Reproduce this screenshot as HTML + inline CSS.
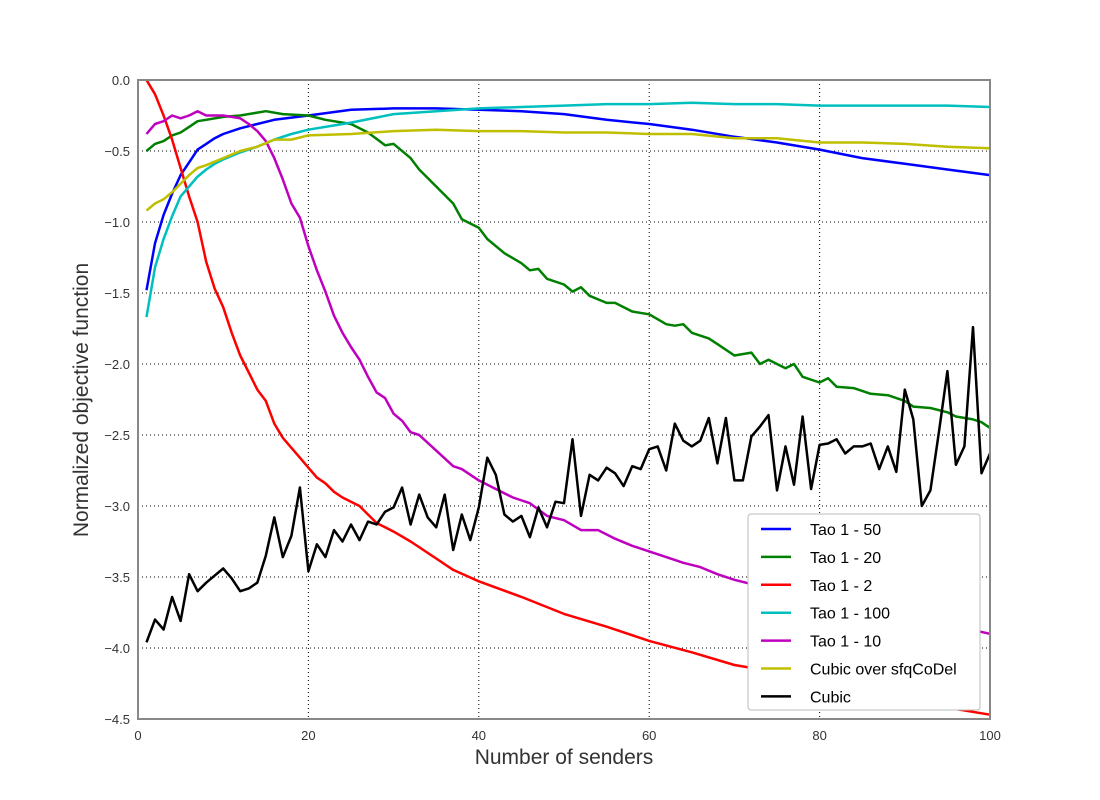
<!DOCTYPE html>
<html><head><meta charset="utf-8"><style>
body{margin:0;background:#fff;}
svg{display:block;font-family:"Liberation Sans",sans-serif;}
</style></head><body>
<svg id="chart" width="1100" height="800" viewBox="0 0 1100 800" xmlns="http://www.w3.org/2000/svg">
<g id="grid"></g>
<g id="series"></g>
<rect x="138" y="80" width="852" height="639" fill="none" stroke="#888" stroke-width="2"/>
<g id="ticks"></g>
<text x="564" y="764" text-anchor="middle" font-size="21" fill="#333">Number of senders</text>
<text transform="translate(88,400) rotate(-90)" text-anchor="middle" font-size="21" fill="#333">Normalized objective function</text>
<g id="legend"></g>
</svg>
<script>
const xTicks=[0,20,40,60,80,100];
const yTicks=[0,-0.5,-1,-1.5,-2,-2.5,-3,-3.5,-4,-4.5];
const seriesNames=["Tao 1 - 50","Tao 1 - 20","Tao 1 - 2","Tao 1 - 100","Tao 1 - 10","Cubic over sfqCoDel","Cubic"];
const seriesColors=["#0000ff","#008000","#ff0000","#00bfbf","#bf00bf","#bfbf00","#000000"];
const tao50X=[1,2,3,4,5,6,7,8,9,10,12,14,16,20,25,30,35,40,45,50,55,60,65,70,75,80,85,90,95,100];
const tao50Y=[-1.48,-1.15,-0.95,-0.8,-0.67,-0.58,-0.49,-0.45,-0.41,-0.38,-0.34,-0.31,-0.28,-0.25,-0.21,-0.2,-0.2,-0.21,-0.22,-0.24,-0.28,-0.31,-0.35,-0.4,-0.44,-0.49,-0.55,-0.59,-0.63,-0.67];
const tao20X=[1,2,3,4,5,6,7,8,10,12,15,17,20,22,25,27,29,30,32,33,35,37,38,40,41,43,45,46,47,48,50,51,52,53,55,56,58,60,62,63,64,65,67,68,70,72,73,74,76,77,78,80,81,82,84,86,88,90,91,93,95,96,98,99,100];
const tao20Y=[-0.5,-0.45,-0.43,-0.39,-0.37,-0.33,-0.29,-0.28,-0.26,-0.25,-0.22,-0.24,-0.25,-0.28,-0.31,-0.37,-0.46,-0.45,-0.55,-0.63,-0.75,-0.87,-0.98,-1.04,-1.12,-1.22,-1.29,-1.34,-1.33,-1.4,-1.44,-1.49,-1.46,-1.52,-1.57,-1.57,-1.63,-1.65,-1.72,-1.73,-1.72,-1.78,-1.82,-1.86,-1.94,-1.92,-2.0,-1.97,-2.03,-2.0,-2.09,-2.13,-2.1,-2.16,-2.17,-2.21,-2.22,-2.26,-2.3,-2.31,-2.34,-2.37,-2.39,-2.41,-2.45];
const tao2X=[1,2,3,4,5,6,7,8,9,10,11,12,13,14,15,16,17,18,19,20,21,22,23,24,25,26,27,28,29,30,32,35,37,40,45,50,55,60,65,70,72,80,90,95,100];
const tao2Y=[0,-0.1,-0.25,-0.42,-0.62,-0.82,-1.0,-1.28,-1.47,-1.6,-1.78,-1.94,-2.06,-2.18,-2.26,-2.42,-2.52,-2.59,-2.66,-2.73,-2.8,-2.84,-2.9,-2.94,-2.97,-3.0,-3.06,-3.12,-3.15,-3.18,-3.25,-3.37,-3.45,-3.53,-3.64,-3.76,-3.85,-3.95,-4.03,-4.12,-4.14,-4.25,-4.37,-4.42,-4.47];
const tao100X=[1,2,3,4,5,6,7,8,9,10,12,14,16,18,20,25,30,35,40,45,50,55,60,65,70,75,80,85,90,95,100];
const tao100Y=[-1.67,-1.32,-1.12,-0.96,-0.82,-0.75,-0.68,-0.63,-0.59,-0.56,-0.51,-0.47,-0.42,-0.38,-0.35,-0.3,-0.24,-0.22,-0.2,-0.19,-0.18,-0.17,-0.17,-0.16,-0.17,-0.17,-0.18,-0.18,-0.18,-0.18,-0.19];
const tao10X=[1,2,3,4,5,6,7,8,10,12,13,14,15,16,17,18,19,20,21,22,23,24,25,26,27,28,29,30,31,32,33,35,37,38,40,42,44,46,48,50,52,54,56,58,60,62,64,66,68,70,72,80,90,97,100];
const tao10Y=[-0.38,-0.31,-0.29,-0.25,-0.27,-0.25,-0.22,-0.25,-0.25,-0.27,-0.31,-0.36,-0.43,-0.55,-0.7,-0.87,-0.97,-1.17,-1.34,-1.49,-1.66,-1.78,-1.88,-1.97,-2.09,-2.2,-2.24,-2.35,-2.4,-2.48,-2.5,-2.61,-2.72,-2.74,-2.82,-2.88,-2.94,-2.98,-3.07,-3.1,-3.17,-3.17,-3.23,-3.28,-3.32,-3.36,-3.4,-3.43,-3.48,-3.52,-3.55,-3.67,-3.78,-3.86,-3.9];
const codelX=[1,2,3,4,5,6,7,8,10,12,14,16,18,20,25,30,35,40,45,50,55,60,65,70,75,80,85,90,95,100];
const codelY=[-0.92,-0.87,-0.84,-0.79,-0.73,-0.67,-0.62,-0.6,-0.55,-0.5,-0.47,-0.42,-0.42,-0.39,-0.38,-0.36,-0.35,-0.36,-0.36,-0.37,-0.37,-0.38,-0.38,-0.41,-0.41,-0.44,-0.44,-0.45,-0.47,-0.48];
const cubicY=[-3.96,-3.80,-3.87,-3.64,-3.81,-3.48,-3.60,-3.54,-3.49,-3.44,-3.51,-3.60,-3.58,-3.54,-3.35,-3.08,-3.36,-3.21,-2.87,-3.46,-3.27,-3.36,-3.17,-3.25,-3.13,-3.24,-3.11,-3.13,-3.04,-3.01,-2.87,-3.13,-2.92,-3.08,-3.15,-2.92,-3.31,-3.06,-3.24,-3.01,-2.66,-2.78,-3.06,-3.11,-3.07,-3.22,-3.01,-3.15,-2.97,-2.98,-2.53,-3.07,-2.78,-2.82,-2.73,-2.77,-2.86,-2.72,-2.74,-2.60,-2.58,-2.75,-2.42,-2.54,-2.58,-2.54,-2.38,-2.70,-2.38,-2.82,-2.82,-2.51,-2.44,-2.36,-2.89,-2.58,-2.85,-2.37,-2.88,-2.57,-2.56,-2.53,-2.63,-2.58,-2.58,-2.56,-2.74,-2.58,-2.76,-2.18,-2.39,-3.00,-2.89,-2.48,-2.05,-2.71,-2.58,-1.74,-2.77,-2.63];
const cubicX=cubicY.map((v,i)=>i+1);

const NS="http://www.w3.org/2000/svg";
const X0=138,X1=990,Y0=80,Y1=719;
const sx=v=>X0+(v-0)/(100-0)*(X1-X0);
const sy=v=>Y0+(0-v)/(0-(-4.5))*(Y1-Y0);
function mk(tag,parent,attrs){const e=document.createElementNS(NS,tag);for(const k in attrs)e.setAttribute(k,attrs[k]);parent.appendChild(e);return e;}
const grid=document.getElementById('grid'),ticks=document.getElementById('ticks');
xTicks.forEach(t=>{
  if(t>0&&t<100){const l=mk('line',grid,{x1:sx(t),x2:sx(t),y1:Y0,y2:Y1,stroke:'#000','stroke-width':1,'stroke-dasharray':'1,3'});
  
  }
  const tx=mk('text',ticks,{x:sx(t),y:740,'text-anchor':'middle','font-size':13,fill:'#333'});
  tx.textContent=t;
  
  
});
yTicks.forEach(t=>{
  if(t<0&&t>-4.5){const l=mk('line',grid,{x1:X0,x2:X1,y1:sy(t),y2:sy(t),stroke:'#000','stroke-width':1,'stroke-dasharray':'1,3'});
  
  }
  const tx=mk('text',ticks,{x:130,y:sy(t)+5,'text-anchor':'end','font-size':13,fill:'#333'});
  tx.textContent=(t===0?'0.0':(t.toFixed(1).replace('-','\u2212')));
  
  
});
const allX=[tao50X,tao20X,tao2X,tao100X,tao10X,codelX,cubicX];
const allY=[tao50Y,tao20Y,tao2Y,tao100Y,tao10Y,codelY,cubicY];
const sg=document.getElementById('series');
allX.forEach((xs,i)=>{
  const d=xs.map((x,j)=>(j?'L':'M')+sx(x).toFixed(1)+','+sy(allY[i][j]).toFixed(1)).join('');
  const p=mk('path',sg,{d:d,fill:'none',stroke:seriesColors[i],'stroke-width':2.5,'stroke-linejoin':'round'});
  
  
});
const lg=document.getElementById('legend');
const box=mk('rect',lg,{x:748,y:514,width:232,height:196,rx:3,fill:'#fff',stroke:'#bbb'});


seriesNames.forEach((n,i)=>{
  const y=529+i*27.9;
  const l=mk('line',lg,{x1:761,x2:791,y1:y,y2:y,stroke:seriesColors[i],'stroke-width':2.5});
  
  
  const t=mk('text',lg,{x:810,y:y+6,'font-size':16,fill:'#000'});
  t.textContent=n;
  
  
});
</script>
</body></html>
